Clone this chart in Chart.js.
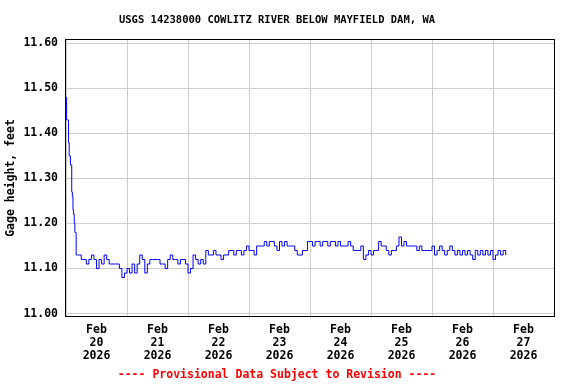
<!DOCTYPE html>
<html><head><meta charset="utf-8">
<style>html,body{margin:0;padding:0;background:#fff;}</style>
<script src="https://cdn.jsdelivr.net/npm/chart.js@4/dist/chart.umd.min.js"></script>
</head><body>
<canvas id="c" width="576" height="384"></canvas>
<script>
const chartTitle = "USGS 14238000 COWLITZ RIVER BELOW MAYFIELD DAM, WA";
const footerText = "---- Provisional Data Subject to Revision ----";
const yAxisLabel = "Gage height, feet";

// 15-minute readings, Feb 20 00:00 to 04:45
const dropValues = [11.48,11.43,11.43,11.43,11.38,11.35,11.35,11.33,11.33,11.27,
                    11.26,11.23,11.22,11.20,11.18,11.18,11.13,11.13,11.13,11.13];
// hourly readings from Feb 20 05:00 onward
const hourlyValues = [
 11.13,11.12,11.12,11.11,11.12,11.13,11.12,11.10,11.12,11.11, // h5-14
 11.13,11.12,11.11,11.11,11.11,11.11,11.10,11.08,11.09,11.10, // h15-24
 11.09,11.11,11.09,11.11,11.13,11.12,11.09,11.11,11.12,11.12, // h25-34
 11.12,11.12,11.11,11.11,11.10,11.12,11.13,11.12,11.12,11.11, // h35-44
 11.12,11.12,11.11,11.09,11.10,11.13,11.12,11.11,11.12,11.11, // h45-54
 11.14,11.13,11.13,11.14,11.13,11.13,11.12,11.13,11.13,11.14, // h55-64
 11.14,11.13,11.14,11.14,11.13,11.14,11.15,11.14,11.14,11.13, // h65-74
 11.15,11.15,11.15,11.16,11.15,11.16,11.16,11.15,11.14,11.16, // h75-84
 11.15,11.16,11.15,11.15,11.15,11.14,11.13,11.13,11.14,11.14, // h85-94
 11.16,11.16,11.15,11.16,11.16,11.15,11.16,11.16,11.15,11.16, // h95-104
 11.16,11.15,11.16,11.15,11.15,11.15,11.16,11.15,11.14,11.14, // h105-114
 11.14,11.15,11.12,11.13,11.14,11.13,11.14,11.14,11.16,11.15, // h115-124
 11.15,11.14,11.13,11.14,11.14,11.15,11.17,11.15,11.16,11.15, // h125-134
 11.15,11.15,11.15,11.14,11.15,11.14,11.14,11.14,11.14,11.15, // h135-144
 11.13,11.14,11.15,11.14,11.13,11.14,11.15,11.14,11.13,11.14, // h145-154
 11.13,11.14,11.13,11.14,11.13,11.12,11.14,11.13,11.14,11.13, // h155-164
 11.14,11.13,11.14,11.12,11.13,11.14,11.13,11.14,11.13        // h165-173
];
const hourlyStart = 5;
const xTickHours = [12,36,60,84,108,132,156,180];
const xTickLabels = [["Feb","20","2026"],["Feb","21","2026"],["Feb","22","2026"],["Feb","23","2026"],
                     ["Feb","24","2026"],["Feb","25","2026"],["Feb","26","2026"],["Feb","27","2026"]];
const yTickValues = [11.00,11.10,11.20,11.30,11.40,11.50,11.60];
const yTickLabels = ["11.00","11.10","11.20","11.30","11.40","11.50","11.60"];
const yMin = 10.9945, yMax = 11.6077;
const xMin = 0, xMax = 192;

const points = dropValues.map((v,i)=>({x:i*0.25,y:v}))
  .concat(hourlyValues.map((v,i)=>({x:hourlyStart+i,y:v})));

const FONT = "'DejaVu Sans Mono', monospace";

const boxPlugin = {
  id:'box',
  afterDatasetsDraw(chart){
    const {ctx, chartArea:a} = chart;
    ctx.save();
    ctx.strokeStyle = '#000';
    ctx.lineWidth = 1;
    ctx.strokeRect(a.left-0.5, a.top-0.5, a.right-a.left+1, a.bottom-a.top+1);
    ctx.restore();
  }
};

new Chart(document.getElementById('c'), {
  type:'line',
  data:{datasets:[{data:points,borderColor:'#0000ff',borderWidth:1,pointRadius:0,
    stepped:true,fill:false,tension:0}]},
  plugins:[boxPlugin],
  options:{
    responsive:false, animation:false, devicePixelRatio:1,
    layout:{padding:{left:0,right:22,top:0,bottom:0}},
    plugins:{
      legend:{display:false}, tooltip:{enabled:false},
      title:{display:true,text:chartTitle,color:'#000',
        font:{family:FONT,weight:'bold',size:10.5,lineHeight:1.2},padding:{top:14,bottom:13.4}},
      subtitle:{display:true,position:'bottom',text:footerText,color:'#ff0000',
        font:{family:FONT,weight:'bold',size:11.5,lineHeight:1.2},padding:{top:0,bottom:2}}
    },
    scales:{
      x:{type:'linear',min:xMin,max:xMax,
        afterBuildTicks:s=>{s.ticks=xTickHours.map(v=>({value:v}));},
        afterFit:s=>{s.height=52.2;},
        grid:{offset:true,color:'#cccccc',lineWidth:1,drawTicks:false},
        border:{display:false},
        ticks:{autoSkip:false,maxRotation:0,minRotation:0,padding:8,color:'#000',
          font:{family:FONT,weight:'bold',size:11.5,lineHeight:1.113},
          callback:(v,i)=>xTickLabels[i]}
      },
      y:{type:'linear',min:yMin,max:yMax,
        afterBuildTicks:s=>{s.ticks=yTickValues.map(v=>({value:v}));},
        afterFit:s=>{s.width=66;},
        grid:{color:'#cccccc',lineWidth:1,drawTicks:false},
        border:{display:false},
        ticks:{padding:8,color:'#000',font:{family:FONT,weight:'bold',size:11.5},
          callback:(v,i)=>yTickLabels[i]},
        title:{display:true,text:yAxisLabel,color:'#000',
          font:{family:FONT,weight:'bold',size:11.5,lineHeight:1.2},padding:{top:4,bottom:0}}
      }
    }
  }
});
</script>
</body></html>
